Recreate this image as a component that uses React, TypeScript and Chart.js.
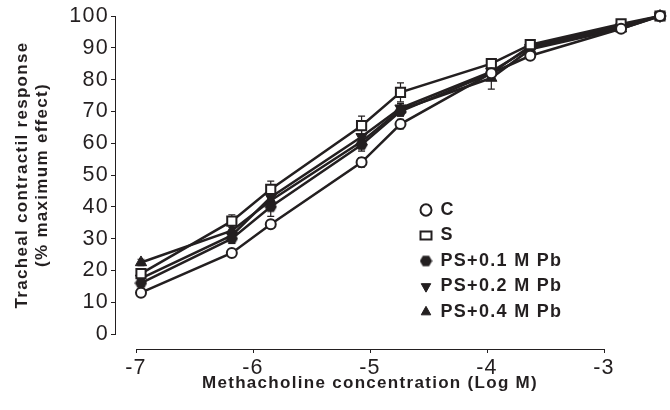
import React, { useEffect, useRef } from 'react';
import { Chart, registerables } from 'chart.js';

Chart.register(...registerables);

// ---- data ----
const X_LOG = [-7, -6.3, -6, -5.3, -5, -4.3, -4, -3.3, -3];
const SERIES_LABELS = ['C', 'S', 'PS+0.1 M Pb', 'PS+0.2 M Pb', 'PS+0.4 M Pb'];
const C_VALUES = [13, 25.5, 34.5, 54, 66, 82, 87.5, 96, 100];
const S_VALUES = [19, 35.5, 45.5, 65.5, 76, 85, 91, 97.5, 100];
const PS01_VALUES = [16, 30, 40, 59.5, 70, 82, 90.5, 97, 100];
const PS02_VALUES = [17.5, 31, 43, 62, 71, 82.5, 90, 96.5, 100];
const PS04_VALUES = [22.5, 32.5, 42, 60.5, 70.5, 80.5, 89.5, 96, 100];
const C_ERR = [0.8, 1, 1.2, 1.5, 1.5, 1.5, 1, 0.5, 0];
const S_ERR = [1.5, 2, 2.6, 3, 3, 1.5, 1.5, 1, 0];
const PS01_ERR = [1, 1.5, 3, 2, 1.5, 2, 1, 0.5, 0];
const PS02_ERR = [1, 1.5, 2, 3.5, 1.5, 2, 1, 0.5, 0];
const PS04_ERR = [1, 1.5, 2, 2, 1.5, 3.5, 1, 0.5, 0];
const Y_MIN = 0;
const Y_MAX = 100;
const Y_STEP = 10;
const X_TICK_MIN = -7;
const X_TICK_MAX = -3;
const X_TICK_STEP = 1;
const X_TITLE = 'Methacholine concentration (Log M)';
const Y_TITLE = ['Tracheal contractil response', '(% maximum effect)'];

// plotted data scale of the original figure (its drawn axis is offset from the data)
const DATA_X_MIN = -7.0385;
const DATA_X_MAX = -3.4316;

const INK = '#231f20';
const FONT = "'Liberation Sans', Arial, Helvetica, sans-serif";
const LETTER_SPACING = '1.3px';

function makeHexagon(size: number, color: string): HTMLCanvasElement {
  const c = document.createElement('canvas');
  c.width = size;
  c.height = size;
  const g = c.getContext('2d')!;
  const r = size / 2;
  g.beginPath();
  for (let i = 0; i < 6; i++) {
    const a = (Math.PI / 3) * i;
    const px = r + Math.cos(a) * (r - 0.3);
    const py = r + Math.sin(a) * (r - 0.3);
    if (i === 0) g.moveTo(px, py);
    else g.lineTo(px, py);
  }
  g.closePath();
  g.fillStyle = color;
  g.fill();
  return c;
}

const letterSpacingPlugin = {
  id: 'letterSpacing',
  beforeLayout(chart: any) {
    chart.ctx.letterSpacing = LETTER_SPACING;
  },
  beforeDraw(chart: any) {
    chart.ctx.letterSpacing = LETTER_SPACING;
  },
};

const legendPlacer = {
  id: 'legendPlacer',
  afterLayout(chart: any) {
    const lg = chart.legend;
    if (!lg) return;
    const w = lg.width;
    const h = lg.height;
    lg.left = 413;
    lg.top = 193.5;
    lg.right = lg.left + w + 20;
    lg.bottom = lg.top + h;
  },
};

// the original's data run past the end of its drawn x axis: let points outside the area show
const openArea = {
  id: 'openArea',
  beforeDatasetsDraw(chart: any) {
    chart._savedArea = chart.chartArea;
    chart.chartArea = {
      left: 0,
      top: 0,
      right: chart.width,
      bottom: chart.height,
      width: chart.width,
      height: chart.height,
    };
  },
  afterDatasetsDraw(chart: any) {
    if (chart._savedArea) chart.chartArea = chart._savedArea;
  },
};

const errorBars = {
  id: 'errorBars',
  beforeDatasetsDraw(chart: any) {
    const ctx = chart.ctx;
    chart.data.datasets.forEach((ds: any, i: number) => {
      const errs: number[] | undefined = ds.errors;
      if (!errs) return;
      const meta = chart.getDatasetMeta(i);
      const xs = chart.scales[meta.xAxisID];
      const ys = chart.scales[meta.yAxisID];
      ctx.save();
      ctx.strokeStyle = INK;
      ctx.lineWidth = 1.2;
      ds.data.forEach((p: any, j: number) => {
        const e = errs[j];
        if (!e) return;
        const px = xs.getPixelForValue(p.x);
        const t = ys.getPixelForValue(p.y + e);
        const b = ys.getPixelForValue(p.y - e);
        ctx.beginPath();
        ctx.moveTo(px, t);
        ctx.lineTo(px, b);
        ctx.moveTo(px - 3.5, t);
        ctx.lineTo(px + 3.5, t);
        ctx.moveTo(px - 3.5, b);
        ctx.lineTo(px + 3.5, b);
        ctx.stroke();
      });
      ctx.restore();
    });
  },
};

function pts(values: number[]) {
  return X_LOG.map((x, i) => ({ x, y: values[i] }));
}

export default function App() {
  const ref = useRef<HTMLCanvasElement>(null);

  useEffect(() => {
    document.body.style.margin = '0';
    const hex = makeHexagon(13, INK);
    const base = {
      borderColor: INK,
      borderWidth: 2.5,
      tension: 0,
      fill: false,
      xAxisID: 'xd',
      yAxisID: 'y',
      clip: false as const,
      pointBorderColor: INK,
    };
    const chart = new Chart(ref.current!, {
      type: 'line',
      data: {
        datasets: [
          {
            ...base,
            label: SERIES_LABELS[0],
            data: pts(C_VALUES),
            errors: C_ERR,
            pointStyle: 'circle',
            pointRadius: 5,
            pointBorderWidth: 2,
            pointBackgroundColor: '#ffffff',
          } as any,
          {
            ...base,
            label: SERIES_LABELS[1],
            data: pts(S_VALUES),
            errors: S_ERR,
            pointStyle: 'rect',
            pointRadius: 6.5,
            pointBorderWidth: 2,
            pointBackgroundColor: '#ffffff',
          } as any,
          {
            ...base,
            label: SERIES_LABELS[2],
            data: pts(PS01_VALUES),
            errors: PS01_ERR,
            pointStyle: hex,
            pointRadius: 6.5,
            pointBorderWidth: 0,
            pointBackgroundColor: INK,
          } as any,
          {
            ...base,
            label: SERIES_LABELS[3],
            data: pts(PS02_VALUES),
            errors: PS02_ERR,
            pointStyle: 'triangle',
            pointRotation: 180,
            pointRadius: 6.5,
            pointBorderWidth: 1,
            pointBackgroundColor: INK,
          } as any,
          {
            ...base,
            label: SERIES_LABELS[4],
            data: pts(PS04_VALUES),
            errors: PS04_ERR,
            pointStyle: 'triangle',
            pointRadius: 6.5,
            pointBorderWidth: 1,
            pointBackgroundColor: INK,
          } as any,
        ],
      },
      options: {
        responsive: false,
        animation: false,
        layout: { padding: { left: 0, right: 66, top: 16, bottom: 0 } },
        plugins: {
          tooltip: { enabled: false },
          legend: {
            position: 'chartArea' as any,
            align: 'start',
            labels: {
              usePointStyle: true,
              boxHeight: 8,
              pointStyleWidth: 11,
              padding: 7.5,
              color: INK,
              font: { family: FONT, size: 18, weight: 'bold' },
            },
          },
        },
        scales: {
          xd: {
            type: 'linear',
            axis: 'x',
            position: 'bottom',
            display: false,
            afterBuildTicks: (s: any) => {
              s.min = DATA_X_MIN;
              s.max = DATA_X_MAX;
            },
          },
          xs: {
            type: 'linear',
            axis: 'x',
            position: 'bottom',
            weight: 0,
            grid: { display: false },
            border: { display: false },
            ticks: { display: false },
            afterFit: (s: any) => {
              s.height = 15;
            },
          },
          x: {
            type: 'linear',
            axis: 'x',
            position: 'bottom',
            weight: 10,
            min: X_TICK_MIN,
            max: X_TICK_MAX,
            ticks: {
              stepSize: X_TICK_STEP,
              autoSkip: false,
              maxRotation: 0,
              padding: 2,
              color: INK,
              font: { family: FONT, size: 21.5 },
            },
            grid: { drawOnChartArea: false, tickLength: 4, color: INK, lineWidth: 1 },
            border: { display: true, color: INK, width: 1 },
            title: {
              display: true,
              text: X_TITLE,
              color: INK,
              font: { family: FONT, size: 17, weight: 'bold' },
              padding: { top: 0, bottom: 16 },
            },
            afterFit: (s: any) => {
              s.height = 61;
            },
          },
          ys: {
            type: 'linear',
            axis: 'y',
            position: 'left',
            weight: 0,
            grid: { display: false },
            border: { display: false },
            ticks: { display: false },
            afterFit: (s: any) => {
              s.width = 21;
            },
          },
          y: {
            type: 'linear',
            axis: 'y',
            position: 'left',
            weight: 10,
            min: Y_MIN,
            max: Y_MAX,
            ticks: {
              stepSize: Y_STEP,
              padding: 2,
              color: INK,
              font: { family: FONT, size: 21.5 },
            },
            grid: { drawOnChartArea: false, tickLength: 4, color: INK, lineWidth: 1 },
            border: { display: true, color: INK, width: 1 },
            title: {
              display: true,
              text: Y_TITLE,
              color: INK,
              font: { family: FONT, size: 17, weight: 'bold' },
              padding: { top: 12, bottom: 0 },
            },
            afterFit: (s: any) => {
              s.width = 115;
            },
          },
        },
      } as any,
      plugins: [letterSpacingPlugin, legendPlacer, openArea, errorBars],
    });
    return () => chart.destroy();
  }, []);

  return (
    <div style={{ width: 670, height: 410 }}>
      <canvas ref={ref} width={670} height={410} style={{ display: 'block' }} />
    </div>
  );
}
